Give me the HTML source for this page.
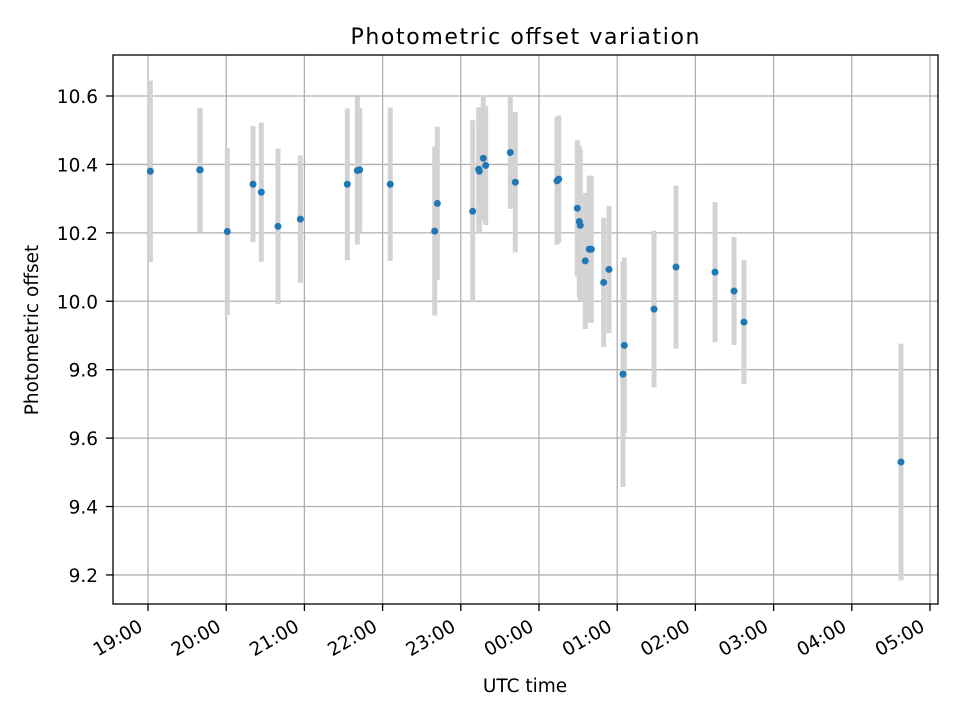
<!DOCTYPE html>
<html><head><meta charset="utf-8"><style>
html,body{margin:0;padding:0;background:#fff;}
svg{display:block;font-family:"DejaVu Sans","Liberation Sans",sans-serif;}
</style></head><body>
<svg id="chart" width="960" height="720" viewBox="0 0 960 720">
<rect x="0" y="0" width="960" height="720" fill="#fff"/>
<text x="525" y="44" text-anchor="middle" font-size="22" textLength="349" fill="#000">Photometric offset variation</text>
<g id="grid"></g>
<g id="bars"></g>
<g id="pts"></g>
<rect x="113" y="55" width="825" height="549" fill="none" stroke="#000" stroke-width="1.3"/>
<g id="axes"></g>
<text x="525" y="692" text-anchor="middle" font-size="18.5">UTC time</text>
<text transform="translate(38,330) rotate(-90)" text-anchor="middle" font-size="18.5">Photometric offset</text>
</svg>
<script>
// hours after 19:00 UTC
const times = [0.03,0.661,0.667,1.014,1.343,1.449,1.662,1.948,2.549,2.677,2.707,3.098,3.666,3.700,4.152,4.229,4.237,4.288,4.318,4.633,4.697,5.230,5.252,5.490,5.515,5.528,5.592,5.643,5.669,5.827,5.895,6.091,6.074,6.471,6.752,7.251,7.494,7.621,9.629];
const offsets = [10.380,10.384,10.384,10.204,10.342,10.319,10.219,10.240,10.342,10.382,10.384,10.342,10.205,10.286,10.263,10.386,10.380,10.418,10.397,10.435,10.348,10.352,10.357,10.272,10.233,10.222,10.118,10.152,10.152,10.055,10.093,9.871,9.787,9.977,10.100,10.085,10.030,9.939,9.530];
const errors = [0.265,0.181,0.181,0.244,0.170,0.203,0.227,0.186,0.222,0.216,0.181,0.224,0.247,0.224,0.266,0.181,0.181,0.183,0.174,0.165,0.205,0.186,0.186,0.199,0.222,0.222,0.199,0.215,0.215,0.189,0.186,0.257,0.33,0.229,0.238,0.205,0.158,0.181,0.346];
const xTickLabels = ["19:00","20:00","21:00","22:00","23:00","00:00","01:00","02:00","03:00","04:00","05:00"];
const yTicks = [9.2,9.4,9.6,9.8,10.0,10.2,10.4,10.6];

const NS="http://www.w3.org/2000/svg";
const L=113,R=938,T=55,B=604;
function xs(h){return 148+h*78.2;}
function ys(v){return 96+(10.6-v)*342.1;}
function mk(tag,attrs,parent){const e=document.createElementNS(NS,tag);for(const k in attrs)e.setAttribute(k,attrs[k]);parent.appendChild(e);return e;}
const grid=document.getElementById('grid'),axes=document.getElementById('axes'),bars=document.getElementById('bars'),pts=document.getElementById('pts');
xTickLabels.forEach((lab,i)=>{
  const x=xs(i);
  const g=mk('line',{x1:x,x2:x,y1:T,y2:B,stroke:'#b0b0b0','stroke-width':1.3},grid);
  
  
  const t=mk('line',{x1:x,x2:x,y1:B,y2:B+7,stroke:'#000','stroke-width':1.3},axes);
  
  
  const tx=mk('text',{x:x-4,y:B+26,'text-anchor':'end','font-size':18.5,transform:`rotate(-30 ${x-4} ${B+26})`},axes);
  tx.textContent=lab;
  
  
});
yTicks.forEach(v=>{
  const y=ys(v);
  const g=mk('line',{x1:L,x2:R,y1:y,y2:y,stroke:'#b0b0b0','stroke-width':1.3},grid);
  
  
  const t=mk('line',{x1:L-7,x2:L,y1:y,y2:y,stroke:'#000','stroke-width':1.3},axes);
  
  
  const tx=mk('text',{x:L-15,y:y+7,'text-anchor':'end','font-size':18.5},axes);
  tx.textContent=v.toFixed(1);
  
  
});
times.forEach((h,i)=>{
  const x=xs(h),v=offsets[i],e=errors[i];
  const b=mk('line',{x1:x,x2:x,y1:ys(v+e),y2:ys(v-e),stroke:'#d3d3d3','stroke-width':5},bars);
  
  
});
times.forEach((h,i)=>{
  const c=mk('circle',{cx:xs(h),cy:ys(offsets[i]),r:3.5,fill:'#1f77b4'},pts);
  
  
});
</script>
</body></html>
